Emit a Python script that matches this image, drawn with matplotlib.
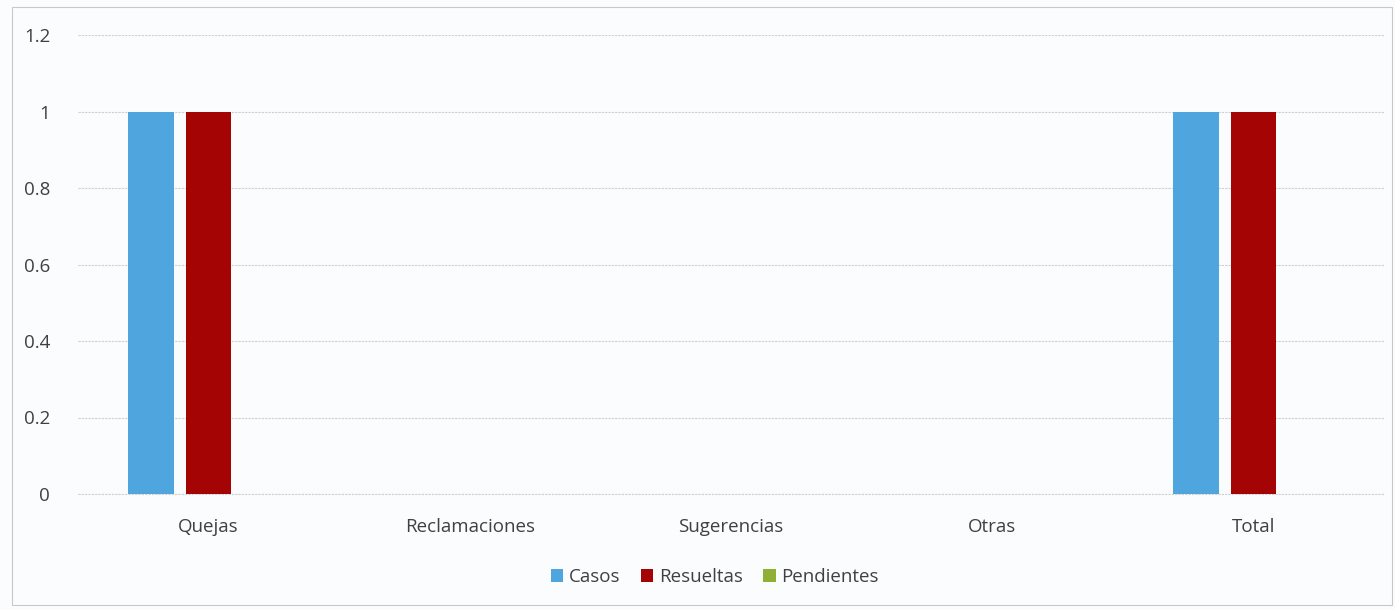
import matplotlib.pyplot as plt
import numpy as np
from matplotlib.patches import Rectangle

categories = ['Quejas', 'Reclamaciones', 'Sugerencias', 'Otras', 'Total']
casos = [1, 0, 0, 0, 1]
resueltas = [1, 0, 0, 0, 1]
pendientes = [0, 0, 0, 0, 0]

series_names = ['Casos', 'Resueltas', 'Pendientes']
colors = ['#4fa5de', '#a50404', '#8fb035']

plt.rcParams['font.family'] = ['Open Sans', 'DejaVu Sans']

fig = plt.figure(figsize=(13.95, 6.1), dpi=100)
fig.patch.set_facecolor('#fafcfe')
fig.patches.append(Rectangle((12 / 1395, 5 / 610), 1380 / 1395, 598 / 610,
                             transform=fig.transFigure, fill=False,
                             edgecolor='#c8c8c8', lw=0.8))

ax = fig.add_axes([78 / 1395, 116 / 610, 1306 / 1395, 459 / 610])
ax.set_facecolor('none')

x = np.arange(len(categories))
width = 0.174
step = 0.22
for i, (vals, name, c) in enumerate(zip([casos, resueltas, pendientes], series_names, colors)):
    ax.bar(x + (i - 1) * step, vals, width, color=c, label=name, zorder=3)

ax.set_xlim(-0.5, len(categories) - 0.5)
ax.set_ylim(0, 1.2)
ax.set_yticks(np.arange(0, 1.21, 0.2))
ax.set_yticklabels(['0', '0.2', '0.4', '0.6', '0.8', '1', '1.2'])
ax.set_xticks(x)
ax.set_xticklabels(categories)
ax.tick_params(axis='both', length=0, labelsize=13.5, colors='#404040')
ax.tick_params(axis='y', pad=20)
ax.tick_params(axis='x', pad=17)
ax.grid(axis='y', color='#cfcfcf', lw=0.8, linestyle=(0, (2, 1)), zorder=0)
for s in ax.spines.values():
    s.set_visible(False)
ax.axhline(0, color='#cfcfcf', lw=0.8, linestyle=(0, (2, 1)), zorder=1, clip_on=False)

fig.legend(loc='center', bbox_to_anchor=(715 / 1395, 1 - 577 / 610), ncol=3,
           frameon=False, fontsize=13.5, handlelength=0.65, handleheight=0.65,
           handletextpad=0.3, columnspacing=1.1, labelcolor='#404040')

fig.savefig('out.png', dpi=100, facecolor=fig.get_facecolor())
